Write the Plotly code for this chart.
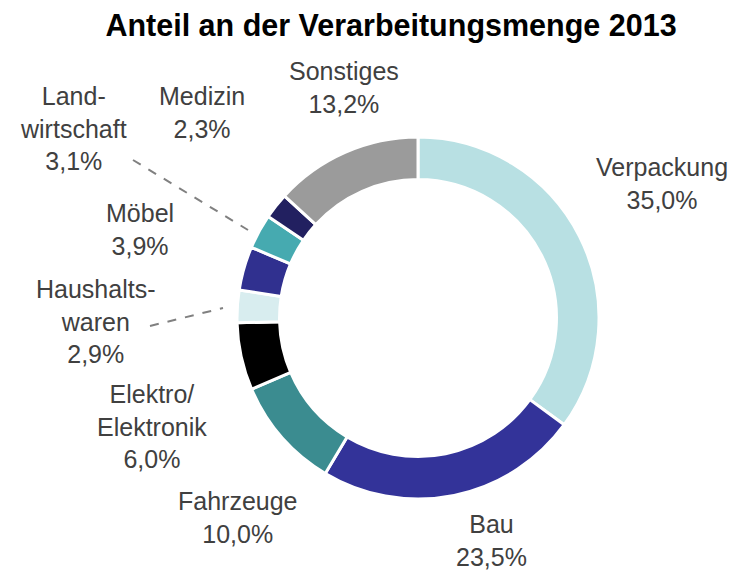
import plotly.graph_objects as go

W, H = 747, 574
OFF = 8  # page body margin in the screenshot

sectors = ["Verpackung", "Bau", "Fahrzeuge", "Elektro/Elektronik", "Haushaltswaren",
           "Möbel", "Landwirtschaft", "Medizin", "Sonstiges"]
label_text = ["Verpackung", "Bau", "Fahrzeuge", "Elektro/<br>Elektronik", "Haushalts-<br>waren",
              "Möbel", "Land-<br>wirtschaft", "Medizin", "Sonstiges"]
shares = [35.0, 23.5, 10.0, 6.0, 2.9, 3.9, 3.1, 2.3, 13.2]

colors = ["#B8E0E3", "#333399", "#3B8C90", "#000000", "#D8EDEF",
          "#30308F", "#46AAB0", "#222060", "#9B9B9B"]

# label centres in screenshot pixels (x, y from top)
label_pos = [(662, 184), (492, 540), (238, 517), (152, 426), (96, 322),
             (140, 229), (73, 129), (202, 113), (344, 88)]


def px(x):
    return (x - OFF) / W


def py(y):
    return 1 - (y - OFF) / H


fig = go.Figure(go.Pie(
    labels=sectors,
    values=shares,
    hole=0.765,
    sort=False,
    direction="clockwise",
    rotation=0,
    marker=dict(colors=colors, line=dict(color="white", width=3)),
    textinfo="none",
    hoverinfo="label+percent",
    domain=dict(x=[px(237), px(599)], y=[py(499), py(137)]),
    showlegend=False,
))

for txt, val, (lx, ly) in zip(label_text, shares, label_pos):
    fig.add_annotation(
        x=px(lx), y=py(ly), xref="paper", yref="paper",
        xanchor="center", yanchor="middle",
        text=f"{txt}<br>{val:.1f}%".replace(".", ","),
        showarrow=False, align="center",
        font=dict(family="Liberation Sans, Arial, sans-serif", size=25, color="#404040"),
    )

# dashed leader lines
for x0, y0, x1, y1 in [(133, 160, 248, 230), (150, 326, 223, 308)]:
    fig.add_shape(type="line", xref="paper", yref="paper",
                  x0=px(x0), y0=py(y0), x1=px(x1), y1=py(y1),
                  line=dict(color="#808080", width=2, dash="dash"))

fig.update_layout(
    width=W, height=H,
    margin=dict(l=0, r=0, t=0, b=0),
    paper_bgcolor="white",
    title=dict(text="<b>Anteil an der Verarbeitungsmenge 2013</b>",
               x=px(391), xanchor="center", y=py(25), yanchor="middle",
               font=dict(family="Liberation Sans, Arial, sans-serif", size=30.5, color="black")),
)

fig.write_html("out.html")
